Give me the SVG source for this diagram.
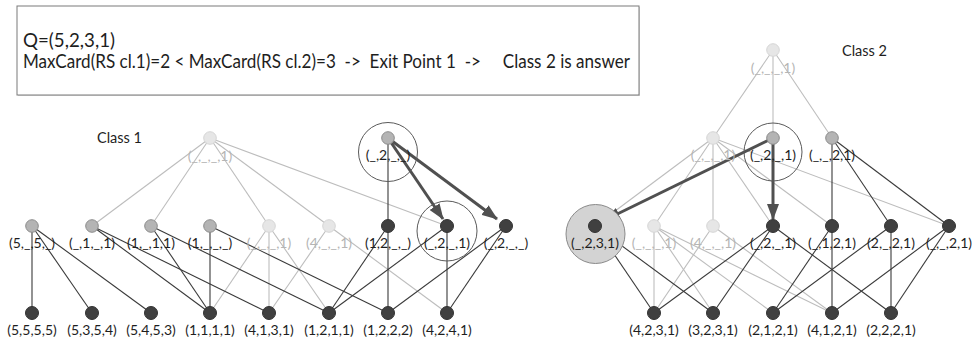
<svg xmlns="http://www.w3.org/2000/svg" width="974" height="343" viewBox="0 0 974 343">
<style>
text{font-family:Lato,"Liberation Sans",sans-serif;fill:#1e1e1e}
.lb{font-size:14px;text-anchor:middle}
.lt{fill:#b5b5b5}
.ttl{font-size:14.5px}
.bx{font-size:18.5px}
.nd{fill:#404040;stroke:#333;stroke-width:1}
.nm{fill:#b4b4b4;stroke:#8c8c8c;stroke-width:1}
.nl{fill:#e6e6e6;stroke:#d6d6d6;stroke-width:1}
.ed{stroke:#3a3a3a;stroke-width:1.1;fill:none}
.el{stroke:#bdbdbd;stroke-width:1.1;fill:none}
.ar{stroke:#505050;stroke-width:3;fill:none;marker-end:url(#ah)}
.ring{fill:none;stroke:#5a5a5a;stroke-width:1}
</style>
<defs>
<marker id="ah" markerUnits="userSpaceOnUse" viewBox="0 0 16 12" refX="15" refY="6" markerWidth="16" markerHeight="12" orient="auto">
<path d="M0,0 L16,6 L0,12 z" fill="#505050"/>
</marker>
</defs>
<rect width="974" height="343" fill="#fff"/>
<g id="infobox">
<rect x="18" y="7" width="622" height="89" fill="#d8d8d8"/>
<rect x="17" y="6" width="622" height="89" fill="#fff" stroke="#7a7a7a" stroke-width="1"/>
<text class="bx" x="23" y="47" textLength="92" lengthAdjust="spacingAndGlyphs">Q=(5,2,3,1)</text>
<text class="bx" x="23" y="68" textLength="607" lengthAdjust="spacingAndGlyphs" xml:space="preserve">MaxCard(RS cl.1)=2 &lt; MaxCard(RS cl.2)=3  -&gt;  Exit Point 1  -&gt;     Class 2 is answer</text>
</g>
<text class="ttl" x="97" y="143">Class 1</text>
<text class="ttl" x="842" y="56">Class 2</text>
<g id="connectors">
<line class="el" x1="210" y1="138" x2="92" y2="226"/>
<line class="el" x1="210" y1="138" x2="151" y2="226"/>
<line class="el" x1="210" y1="138" x2="269" y2="226"/>
<line class="el" x1="210" y1="138" x2="329" y2="226"/>
<line class="el" x1="210" y1="138" x2="447" y2="226"/>
<line class="el" x1="269" y1="226" x2="210" y2="313"/>
<line class="el" x1="269" y1="226" x2="269" y2="313"/>
<line class="el" x1="269" y1="226" x2="329" y2="313"/>
<line class="el" x1="329" y1="226" x2="269" y2="313"/>
<line class="el" x1="329" y1="226" x2="447" y2="313"/>
<line class="ed" x1="388" y1="138" x2="388" y2="226"/>
<line class="ed" x1="32" y1="226" x2="32" y2="313"/>
<line class="ed" x1="32" y1="226" x2="92" y2="313"/>
<line class="ed" x1="32" y1="226" x2="151" y2="313"/>
<line class="ed" x1="92" y1="226" x2="210" y2="313"/>
<line class="ed" x1="92" y1="226" x2="269" y2="313"/>
<line class="ed" x1="151" y1="226" x2="210" y2="313"/>
<line class="ed" x1="151" y1="226" x2="329" y2="313"/>
<line class="ed" x1="210" y1="226" x2="210" y2="313"/>
<line class="ed" x1="210" y1="226" x2="388" y2="313"/>
<line class="ed" x1="388" y1="226" x2="329" y2="313"/>
<line class="ed" x1="388" y1="226" x2="388" y2="313"/>
<line class="ed" x1="447" y1="226" x2="329" y2="313"/>
<line class="ed" x1="447" y1="226" x2="447" y2="313"/>
<line class="ed" x1="506" y1="226" x2="388" y2="313"/>
<line class="ed" x1="506" y1="226" x2="447" y2="313"/>
<line class="ar" x1="388" y1="138" x2="443" y2="219"/>
<line class="ar" x1="388" y1="138" x2="497" y2="219"/>
<line class="el" x1="773" y1="50" x2="713" y2="138"/>
<line class="el" x1="773" y1="50" x2="773" y2="138"/>
<line class="el" x1="773" y1="50" x2="832" y2="138"/>
<line class="el" x1="713" y1="138" x2="595" y2="226"/>
<line class="el" x1="713" y1="138" x2="654" y2="226"/>
<line class="el" x1="713" y1="138" x2="713" y2="226"/>
<line class="el" x1="713" y1="138" x2="773" y2="226"/>
<line class="el" x1="713" y1="138" x2="832" y2="226"/>
<line class="el" x1="713" y1="138" x2="949" y2="226"/>
<line class="el" x1="654" y1="226" x2="654" y2="313"/>
<line class="el" x1="654" y1="226" x2="713" y2="313"/>
<line class="el" x1="654" y1="226" x2="773" y2="313"/>
<line class="el" x1="654" y1="226" x2="832" y2="313"/>
<line class="el" x1="713" y1="226" x2="654" y2="313"/>
<line class="el" x1="713" y1="226" x2="832" y2="313"/>
<line class="ed" x1="832" y1="138" x2="832" y2="226"/>
<line class="ed" x1="832" y1="138" x2="891" y2="226"/>
<line class="ed" x1="832" y1="138" x2="949" y2="226"/>
<line class="ed" x1="595" y1="226" x2="654" y2="313"/>
<line class="ed" x1="595" y1="226" x2="713" y2="313"/>
<line class="ed" x1="773" y1="226" x2="654" y2="313"/>
<line class="ed" x1="773" y1="226" x2="713" y2="313"/>
<line class="ed" x1="773" y1="226" x2="891" y2="313"/>
<line class="ed" x1="832" y1="226" x2="773" y2="313"/>
<line class="ed" x1="832" y1="226" x2="832" y2="313"/>
<line class="ed" x1="891" y1="226" x2="773" y2="313"/>
<line class="ed" x1="891" y1="226" x2="891" y2="313"/>
<line class="ed" x1="949" y1="226" x2="832" y2="313"/>
<line class="ed" x1="949" y1="226" x2="891" y2="313"/>
<line class="ar" x1="773" y1="138" x2="605" y2="220"/>
<line class="ar" x1="773" y1="138" x2="773" y2="219"/>
</g>
<circle class="ring" cx="388" cy="152" r="29.5"/>
<circle class="ring" cx="447" cy="231" r="30"/>
<circle class="ring" cx="773" cy="152" r="29"/>
<circle cx="595.5" cy="234" r="29.5" fill="#d3d3d3" stroke="#8a8a8a" stroke-width="1"/>
<g id="c1_top_1"><circle class="nl" cx="210" cy="138" r="6.3"/><text class="lb lt" x="210" y="161">(_,_,_,1)</text></g>
<g id="c1_top_2"><circle class="nm" cx="388" cy="138" r="6.3"/><text class="lb" x="388" y="160">(_,2,_,_)</text></g>
<g id="c1_m0"><circle class="nm" cx="32" cy="226" r="6.3"/><text class="lb" x="32" y="248">(5,_,5,_)</text></g>
<g id="c1_m1"><circle class="nm" cx="92" cy="226" r="6.3"/><text class="lb" x="92" y="248">(_,1,_,1)</text></g>
<g id="c1_m2"><circle class="nm" cx="151" cy="226" r="6.3"/><text class="lb" x="151" y="248">(1,_,1,1)</text></g>
<g id="c1_m3"><circle class="nm" cx="210" cy="226" r="6.3"/><text class="lb" x="210" y="248">(1,_,_,_)</text></g>
<g id="c1_m4"><circle class="nl" cx="269" cy="226" r="6.3"/><text class="lb lt" x="269" y="248">(_,_,_,1)</text></g>
<g id="c1_m5"><circle class="nl" cx="329" cy="226" r="6.3"/><text class="lb lt" x="329" y="248">(4,_,_,1)</text></g>
<g id="c1_m6"><circle class="nd" cx="388" cy="226" r="6.5"/><text class="lb" x="388" y="248">(1,2,_,_)</text></g>
<g id="c1_m7"><circle class="nd" cx="447" cy="226" r="6.5"/><text class="lb" x="447" y="248">(_,2,_,1)</text></g>
<g id="c1_m8"><circle class="nd" cx="506" cy="226" r="6.5"/><text class="lb" x="506" y="248">(_,2,_,_)</text></g>
<g id="c1_b0"><circle class="nd" cx="32" cy="313" r="6.5"/><text class="lb" x="32" y="335">(5,5,5,5)</text></g>
<g id="c1_b1"><circle class="nd" cx="92" cy="313" r="6.5"/><text class="lb" x="92" y="335">(5,3,5,4)</text></g>
<g id="c1_b2"><circle class="nd" cx="151" cy="313" r="6.5"/><text class="lb" x="151" y="335">(5,4,5,3)</text></g>
<g id="c1_b3"><circle class="nd" cx="210" cy="313" r="6.5"/><text class="lb" x="210" y="335">(1,1,1,1)</text></g>
<g id="c1_b4"><circle class="nd" cx="269" cy="313" r="6.5"/><text class="lb" x="269" y="335">(4,1,3,1)</text></g>
<g id="c1_b5"><circle class="nd" cx="329" cy="313" r="6.5"/><text class="lb" x="329" y="335">(1,2,1,1)</text></g>
<g id="c1_b6"><circle class="nd" cx="388" cy="313" r="6.5"/><text class="lb" x="388" y="335">(1,2,2,2)</text></g>
<g id="c1_b7"><circle class="nd" cx="447" cy="313" r="6.5"/><text class="lb" x="447" y="335">(4,2,4,1)</text></g>
<g id="c2_top"><circle class="nl" cx="773" cy="50" r="6.3"/><text class="lb lt" x="773" y="73">(_,_,_,1)</text></g>
<g id="c2_s0"><circle class="nl" cx="713" cy="138" r="6.3"/><text class="lb lt" x="713" y="160">(_,_,_,1)</text></g>
<g id="c2_s1"><circle class="nm" cx="773" cy="138" r="6.3"/><text class="lb" x="773" y="160">(_,2,_,1)</text></g>
<g id="c2_s2"><circle class="nm" cx="832" cy="138" r="6.3"/><text class="lb" x="832" y="160">(_,_,2,1)</text></g>
<g id="c2_c0"><circle class="nd" cx="595" cy="226" r="6.5"/><text class="lb" x="595" y="248">(_,2,3,1)</text></g>
<g id="c2_c1"><circle class="nl" cx="654" cy="226" r="6.3"/><text class="lb lt" x="654" y="248">(_,_,_,1)</text></g>
<g id="c2_c2"><circle class="nl" cx="713" cy="226" r="6.3"/><text class="lb lt" x="713" y="248">(4,_,_,1)</text></g>
<g id="c2_c3"><circle class="nd" cx="773" cy="226" r="6.5"/><text class="lb" x="773" y="248">(_,2,_,1)</text></g>
<g id="c2_c4"><circle class="nd" cx="832" cy="226" r="6.5"/><text class="lb" x="832" y="248">(_,1,2,1)</text></g>
<g id="c2_c5"><circle class="nd" cx="891" cy="226" r="6.5"/><text class="lb" x="891" y="248">(2,_,2,1)</text></g>
<g id="c2_c6"><circle class="nd" cx="949" cy="226" r="6.5"/><text class="lb" x="949" y="248">(_,_,2,1)</text></g>
<g id="c2_d0"><circle class="nd" cx="654" cy="313" r="6.5"/><text class="lb" x="654" y="335">(4,2,3,1)</text></g>
<g id="c2_d1"><circle class="nd" cx="713" cy="313" r="6.5"/><text class="lb" x="713" y="335">(3,2,3,1)</text></g>
<g id="c2_d2"><circle class="nd" cx="773" cy="313" r="6.5"/><text class="lb" x="773" y="335">(2,1,2,1)</text></g>
<g id="c2_d3"><circle class="nd" cx="832" cy="313" r="6.5"/><text class="lb" x="832" y="335">(4,1,2,1)</text></g>
<g id="c2_d4"><circle class="nd" cx="891" cy="313" r="6.5"/><text class="lb" x="891" y="335">(2,2,2,1)</text></g>
</svg>
